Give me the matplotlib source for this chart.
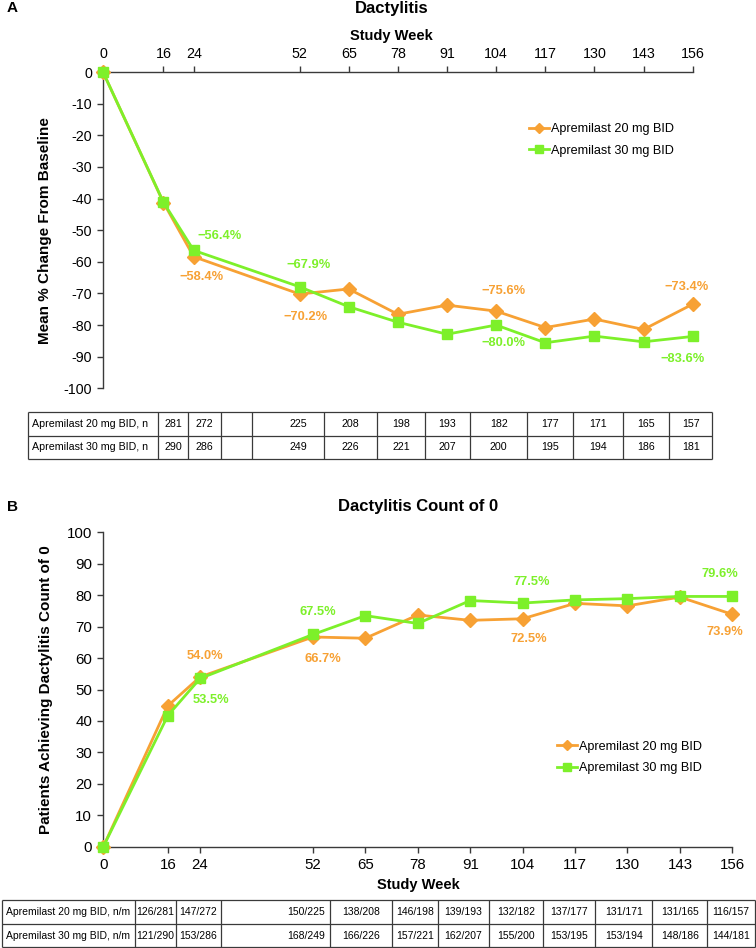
import matplotlib
matplotlib.use('Agg')
import matplotlib.pyplot as plt

plt.rcParams['font.family'] = ['Liberation Sans', 'DejaVu Sans']
plt.rcParams['axes.unicode_minus'] = False

# ---- data ----
weeks = [0, 16, 24, 52, 65, 78, 91, 104, 117, 130, 143, 156]

chg_20 = [0, -41.3, -58.4, -70.2, -68.6, -76.6, -73.7, -75.6, -80.8, -78.1, -81.4, -73.4]
chg_30 = [0, -41.2, -56.4, -67.9, -74.2, -79.1, -82.9, -80.0, -85.6, -83.5, -85.3, -83.6]

zero_20 = [0, 44.8, 54.0, 66.7, 66.3, 73.7, 72.0, 72.5, 77.4, 76.6, 79.4, 73.9]
zero_30 = [0, 41.7, 53.5, 67.5, 73.5, 71.0, 78.3, 77.5, 78.5, 78.9, 79.6, 79.6]

n_20 = ['281', '272', '', '225', '208', '198', '193', '182', '177', '171', '165', '157']
n_30 = ['290', '286', '', '249', '226', '221', '207', '200', '195', '194', '186', '181']
nm_20 = ['126/281', '147/272', '150/225', '138/208', '146/198', '139/193',
         '132/182', '137/177', '131/171', '131/165', '116/157']
nm_30 = ['121/290', '153/286', '168/249', '166/226', '157/221', '162/207',
         '155/200', '153/195', '153/194', '148/186', '144/181']

lab_20 = 'Apremilast 20 mg BID'
lab_30 = 'Apremilast 30 mg BID'

ORANGE = '#F7A134'
GREEN = '#7DF02A'
SPINE = '#3a3a3a'

W, H = 756, 948
fig = plt.figure(figsize=(W / 100, H / 100), dpi=100)


def rect(x0, y0, x1, y1):
    # pixel box (top-left origin) -> figure fraction
    return [x0 / W, 1 - y1 / H, (x1 - x0) / W, (y1 - y0) / H]


def draw_series(ax, y20, y30):
    ax.plot(weeks, y20, color=ORANGE, lw=2.0, marker='D', ms=7, mec=ORANGE,
            label=lab_20, clip_on=False, zorder=3)
    ax.plot(weeks, y30, color=GREEN, lw=2.0, marker='s', ms=7.5, mec=GREEN,
            label=lab_30, clip_on=False, zorder=4)


def note(ax, i, y, color, dx, dy):
    v = y[i]
    txt = ('\u2212%.1f%%' % abs(v)) if v < 0 else ('%.1f%%' % v)
    ax.annotate(txt, (weeks[i], v), xytext=(dx, dy), textcoords='offset pixels',
                ha='center', va='center', color=color, fontsize=9.3,
                fontweight='bold')


def style_axes(ax):
    for s in ['left', 'top', 'bottom', 'right']:
        ax.spines[s].set_color(SPINE)
        ax.spines[s].set_linewidth(1.0)
    ax.tick_params(colors='black', length=4, width=1.0, labelsize=10.5,
                   pad=4, color=SPINE)
    ax.set_xticks(weeks)
    ax.set_xlim(0, 156)


# ---- panel A ----
axA = fig.add_axes(rect(103, 72, 692.7, 388.3))
draw_series(axA, chg_20, chg_30)
style_axes(axA)
axA.set_ylim(-100, 0)
axA.set_yticks(range(0, -101, -10))
axA.xaxis.tick_top()
axA.spines['bottom'].set_visible(False)
axA.spines['right'].set_visible(False)
axA.tick_params(labelsize=10.3)
axA.set_ylabel('Mean % Change From Baseline', fontsize=11, fontweight='bold',
               labelpad=8)
note(axA, 2, chg_30, GREEN, 26, 14)
note(axA, 2, chg_20, ORANGE, 8, -20)
note(axA, 3, chg_30, GREEN, 9, 22)
note(axA, 3, chg_20, ORANGE, 6, -23)
note(axA, 7, chg_20, ORANGE, 7, 20)
note(axA, 7, chg_30, GREEN, 7, -18)
note(axA, 11, chg_20, ORANGE, -6, 17)
note(axA, 11, chg_30, GREEN, -10, -23)
axA.legend(loc='center left', bbox_to_anchor=(529 / W, 1 - 140 / H),
           bbox_transform=fig.transFigure, frameon=False, fontsize=9.1,
           borderpad=0, borderaxespad=0, handlelength=1.6, handletextpad=0.15,
           labelspacing=0.75, markerscale=0.7)

# ---- panel B ----
axB = fig.add_axes(rect(103.3, 532.3, 732.3, 846.7))
draw_series(axB, zero_20, zero_30)
style_axes(axB)
axB.set_ylim(0, 100)
axB.set_yticks(range(0, 101, 10))
axB.spines['top'].set_visible(False)
axB.spines['right'].set_visible(False)
axB.tick_params(labelsize=10.8)
axB.set_ylabel('Patients Achieving Dactylitis Count of 0', fontsize=11,
               fontweight='bold', labelpad=10)
note(axB, 2, zero_20, ORANGE, 5, 21)
note(axB, 2, zero_30, GREEN, 11, -22)
note(axB, 3, zero_30, GREEN, 5, 22)
note(axB, 3, zero_20, ORANGE, 10, -22)
note(axB, 7, zero_30, GREEN, 9, 21)
note(axB, 7, zero_20, ORANGE, 6, -20)
note(axB, 11, zero_30, GREEN, -12, 22)
note(axB, 11, zero_20, ORANGE, -7, -18)
axB.legend(loc='center left', bbox_to_anchor=(556.7 / W, 1 - 757.5 / H),
           bbox_transform=fig.transFigure, frameon=False, fontsize=9.1,
           borderpad=0, borderaxespad=0, handlelength=1.6, handletextpad=0.15,
           labelspacing=0.75, markerscale=0.7)

# ---- overlay for titles, labels and tables (pixel coordinates) ----
ov = fig.add_axes([0, 0, 1, 1])
ov.set_xlim(0, W)
ov.set_ylim(H, 0)
ov.axis('off')
ov.patch.set_alpha(0)

ov.text(12, 8, 'A', fontsize=11, fontweight='bold', ha='center', va='center')
ov.text(392, 8, 'Dactylitis', fontsize=12, fontweight='bold', ha='center', va='center')
ov.text(391, 36, 'Study Week', fontsize=10.5, fontweight='bold', ha='center', va='center')

ov.text(12, 507, 'B', fontsize=11, fontweight='bold', ha='center', va='center')
ov.text(418, 507, 'Dactylitis Count of 0', fontsize=12, fontweight='bold',
        ha='center', va='center')
ov.text(418, 885, 'Study Week', fontsize=10.5, fontweight='bold', ha='center', va='center')


def draw_table(cols, rows, row_names, values, wide_col, wide_pad, fs):
    x0, x1 = cols[0], cols[-1]
    for y in rows:
        ov.plot([x0, x1], [y, y], color=SPINE, lw=0.9, solid_capstyle='butt')
    for x in cols:
        ov.plot([x, x], [rows[0], rows[-1]], color=SPINE, lw=0.9, solid_capstyle='butt')
    for r in range(len(row_names)):
        yc = (rows[r] + rows[r + 1]) / 2
        ov.text(cols[0] + 4, yc, row_names[r], fontsize=fs, ha='left', va='center')
        for c, val in enumerate(values[r]):
            left, right = cols[c + 1], cols[c + 2]
            if c == wide_col:
                ov.text(right - wide_pad, yc, val, fontsize=fs, ha='right', va='center')
            else:
                ov.text((left + right) / 2, yc, val, fontsize=fs, ha='center', va='center')


colsA = [28.3, 158.3, 187.7, 221, 251.7, 324, 377.3, 425, 470, 527.3, 573.3,
         623.3, 669.3, 712.3]
draw_table(colsA, [412.3, 435.7, 459],
           ['Apremilast 20 mg BID, n', 'Apremilast 30 mg BID, n'],
           [n_20, n_30], 3, 17, 7.7)

colsB = [1.7, 135, 175.7, 221, 330, 392.3, 437.7, 489.3, 542.7, 595, 652.3,
         707.3, 754.5]
draw_table(colsB, [900, 924.3, 947.3],
           ['Apremilast 20 mg BID, n/m', 'Apremilast 30 mg BID, n/m'],
           [nm_20, nm_30], 2, 5, 7.5)

fig.savefig('out.png', dpi=100)
